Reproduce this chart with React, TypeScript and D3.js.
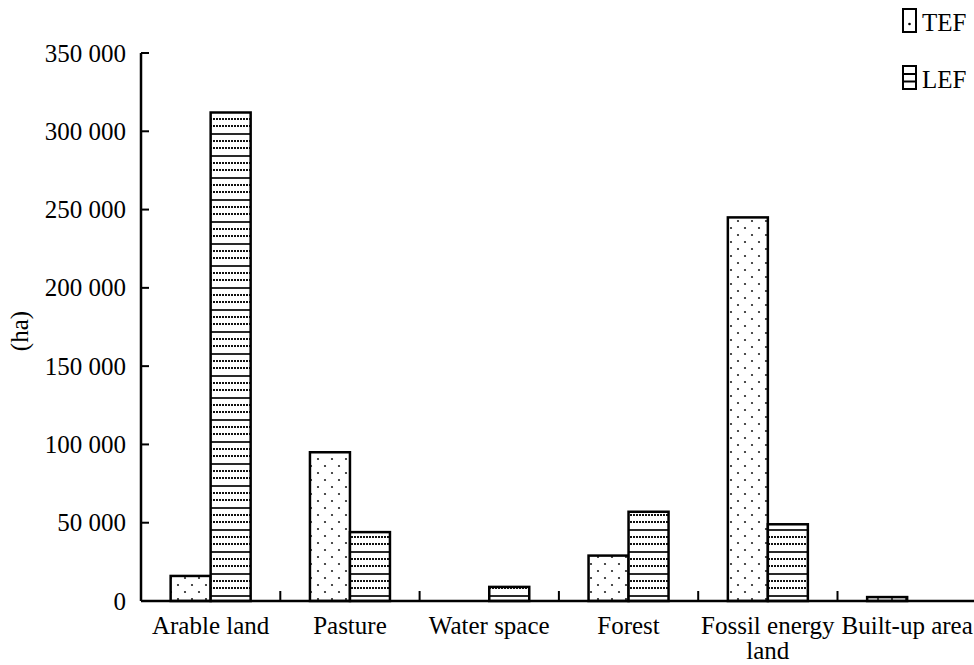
import React, { useEffect, useRef } from "react";
import * as d3 from "d3";

const categories = ["Arable land", "Pasture", "Water space", "Forest", "Fossil energy land", "Built-up area"];
const categoryLines = [["Arable land"], ["Pasture"], ["Water space"], ["Forest"], ["Fossil energy", "land"], ["Built-up area"]];
const seriesNames = ["TEF", "LEF"];
const tefValues = [16000, 95000, 0, 29000, 245000, 2500];
const lefValues = [312000, 44000, 9000, 57000, 49000, 0];
const yTicks = [0, 50000, 100000, 150000, 200000, 250000, 300000, 350000];

export default function App() {
  const ref = useRef<SVGSVGElement>(null);
  useEffect(() => {
    const svg = d3.select(ref.current);
    svg.selectAll("*").remove();
    const W = 974;
    const left = 141, bottom = 601, top = 53;
    const bandW = 139.3;
    const x = d3.scaleBand<string>().domain(categories).range([left, left + bandW * 6]).padding(0);
    const y = d3.scaleLinear().domain([0, 350000]).range([bottom, top]);
    const font = "Liberation Serif";
    const fs = 25;

    const defs = svg.append("defs");
    const dots = defs.append("pattern").attr("id", "dots").attr("patternUnits", "userSpaceOnUse")
      .attr("width", 14).attr("height", 14);
    dots.append("rect").attr("width", 14).attr("height", 14).attr("fill", "white");
    dots.append("circle").attr("cx", 3).attr("cy", 4).attr("r", 1.1).attr("fill", "#222");
    dots.append("circle").attr("cx", 10).attr("cy", 11).attr("r", 1.1).attr("fill", "#222");

    const lines = defs.append("pattern").attr("id", "hlines").attr("patternUnits", "userSpaceOnUse")
      .attr("width", 6).attr("height", 22);
    lines.append("rect").attr("width", 6).attr("height", 22).attr("fill", "white");
    lines.append("line").attr("x1", 0).attr("x2", 6).attr("y1", 2).attr("y2", 2)
      .attr("stroke", "#111").attr("stroke-width", 1.8);
    lines.append("line").attr("x1", 0).attr("x2", 6).attr("y1", 9).attr("y2", 9)
      .attr("stroke", "#111").attr("stroke-width", 1.8).attr("stroke-dasharray", "2,1");
    lines.append("line").attr("x1", 0).attr("x2", 6).attr("y1", 16).attr("y2", 16)
      .attr("stroke", "#111").attr("stroke-width", 1.8).attr("stroke-dasharray", "2,1");

    const barW = 40;
    const g = svg.append("g");
    categories.forEach((c, i) => {
      const cx = (x(c) as number) + x.bandwidth() / 2;
      const vals = [tefValues[i], lefValues[i]];
      vals.forEach((v, j) => {
        if (v <= 0) return;
        const bx = cx - barW + j * barW;
        g.append("rect").attr("x", bx).attr("y", y(v)).attr("width", barW).attr("height", bottom - y(v))
          .attr("fill", j === 0 ? "url(#dots)" : "url(#hlines)").attr("stroke", "#000").attr("stroke-width", 2.5);
      });
    });

    svg.append("line").attr("x1", left).attr("x2", left).attr("y1", top).attr("y2", bottom)
      .attr("stroke", "#000").attr("stroke-width", 2.5);
    yTicks.forEach((t) => {
      svg.append("line").attr("x1", left).attr("x2", left + 8).attr("y1", y(t)).attr("y2", y(t))
        .attr("stroke", "#000").attr("stroke-width", 2);
      svg.append("text").attr("x", left - 15).attr("y", y(t) + 8.5).attr("text-anchor", "end")
        .style("font-family", font).attr("font-size", fs).attr("fill", "#000")
        .text(d3.format(",")(t).replace(/,/g, " "));
    });
    svg.append("text").attr("transform", `translate(28,${(top + bottom) / 2 + 4}) rotate(-90)`)
      .attr("text-anchor", "middle").style("font-family", font).attr("font-size", fs).text("(ha)");

    svg.append("line").attr("x1", left).attr("x2", W).attr("y1", bottom).attr("y2", bottom)
      .attr("stroke", "#000").attr("stroke-width", 2.5);
    for (let i = 1; i <= 6; i++) {
      const tx = left + bandW * i;
      svg.append("line").attr("x1", tx).attr("x2", tx).attr("y1", bottom).attr("y2", bottom - 10)
        .attr("stroke", "#000").attr("stroke-width", 2);
    }
    categories.forEach((c, i) => {
      const cx = (x(c) as number) + x.bandwidth() / 2;
      categoryLines[i].forEach((ln, k) => {
        svg.append("text").attr("x", cx).attr("y", 634 + k * 25).attr("text-anchor", "middle")
          .style("font-family", font).attr("font-size", fs).text(ln);
      });
    });

    const leg = [9, 66];
    leg.forEach((ly, i) => {
      svg.append("rect").attr("x", 903).attr("y", ly).attr("width", 13).attr("height", 23)
        .attr("fill", "white").attr("stroke", "#000").attr("stroke-width", 2);
      if (i === 0) {
        svg.append("circle").attr("cx", 909.5).attr("cy", ly + 15).attr("r", 1.3).attr("fill", "#000");
      } else {
        [ly + 8, ly + 15.5].forEach((yy) => {
          svg.append("line").attr("x1", 903).attr("x2", 916).attr("y1", yy).attr("y2", yy)
            .attr("stroke", "#000").attr("stroke-width", 2);
        });
      }
      svg.append("text").attr("x", 922).attr("y", ly + 22).style("font-family", font)
        .attr("font-size", fs).text(seriesNames[i]);
    });
  }, []);
  return (
    <svg ref={ref} width={974} height={665}
      style={{ position: "absolute", left: 0, top: 0, background: "white", display: "block" }} />
  );
}
